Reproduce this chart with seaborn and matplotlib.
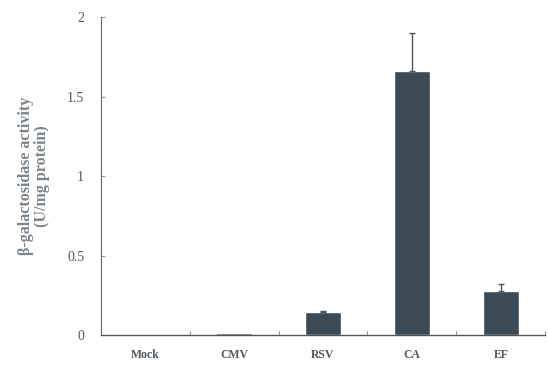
import numpy as np
import pandas as pd
import seaborn as sns
import matplotlib.pyplot as plt
from matplotlib.ticker import FixedLocator

promoters = ["Mock", "CMV", "RSV", "CA", "EF"]
activity = [0.0, 0.01, 0.145, 1.66, 0.28]
sd = [0.0, 0.0, 0.005, 0.24, 0.04]

df = pd.DataFrame({"promoter": promoters, "activity": activity})

sns.set_style("white")
plt.rcParams["font.family"] = ["Liberation Serif", "DejaVu Serif"]

fig = plt.figure(figsize=(5.48, 3.71), dpi=100)
ax = fig.add_axes([0.184, 0.097, 0.811, 0.857])

bar_col = "#3b4a55"
sns.barplot(data=df, x="promoter", y="activity", color=bar_col, width=0.41,
            errorbar=None, saturation=1, ax=ax)

# only bars with a real error get a whisker (upper side only)
idx = [i for i, s in enumerate(sd) if s > 0]
ax.errorbar(idx, [activity[i] for i in idx],
            yerr=[np.zeros(len(idx)), [sd[i] for i in idx]], fmt="none",
            ecolor="#4a5660", elinewidth=1.0, capsize=2.5, capthick=1.0)

ax.set_ylim(0, 2)
ax.set_xlim(-0.5, 4.5)
ax.set_yticks([0, 0.5, 1, 1.5, 2])
ax.set_yticklabels(["0", "0.5", "1", "1.5", "2"])
ax.xaxis.set_minor_locator(FixedLocator([0.5, 1.5, 2.5, 3.5, 4.5]))
ax.tick_params(axis="x", which="major", length=0, pad=10)
ax.tick_params(axis="x", which="minor", direction="in", length=3, color="#777777", bottom=True)
ax.tick_params(axis="y", direction="in", length=3, color="#999999", left=True, pad=12)

txt_col = "#4f5a60"
for lab in ax.get_xticklabels():
    lab.set_fontsize(8.5)
    lab.set_fontweight("bold")
    lab.set_color(txt_col)
for lab in ax.get_yticklabels():
    lab.set_fontsize(10)
    lab.set_color("#4f585e")

ax.set_xlabel("")
ax.set_ylabel("β-galactosidase activity\n(U/mg protein)", fontsize=11.5,
              fontweight="bold", color="#7a848a", labelpad=12, linespacing=1.0)

sns.despine(ax=ax)
ax.spines["left"].set_color("#666666")
ax.spines["bottom"].set_color("#555555")
ax.spines["left"].set_linewidth(0.8)
ax.spines["bottom"].set_linewidth(1.0)

fig.savefig("out.png", dpi=100)
